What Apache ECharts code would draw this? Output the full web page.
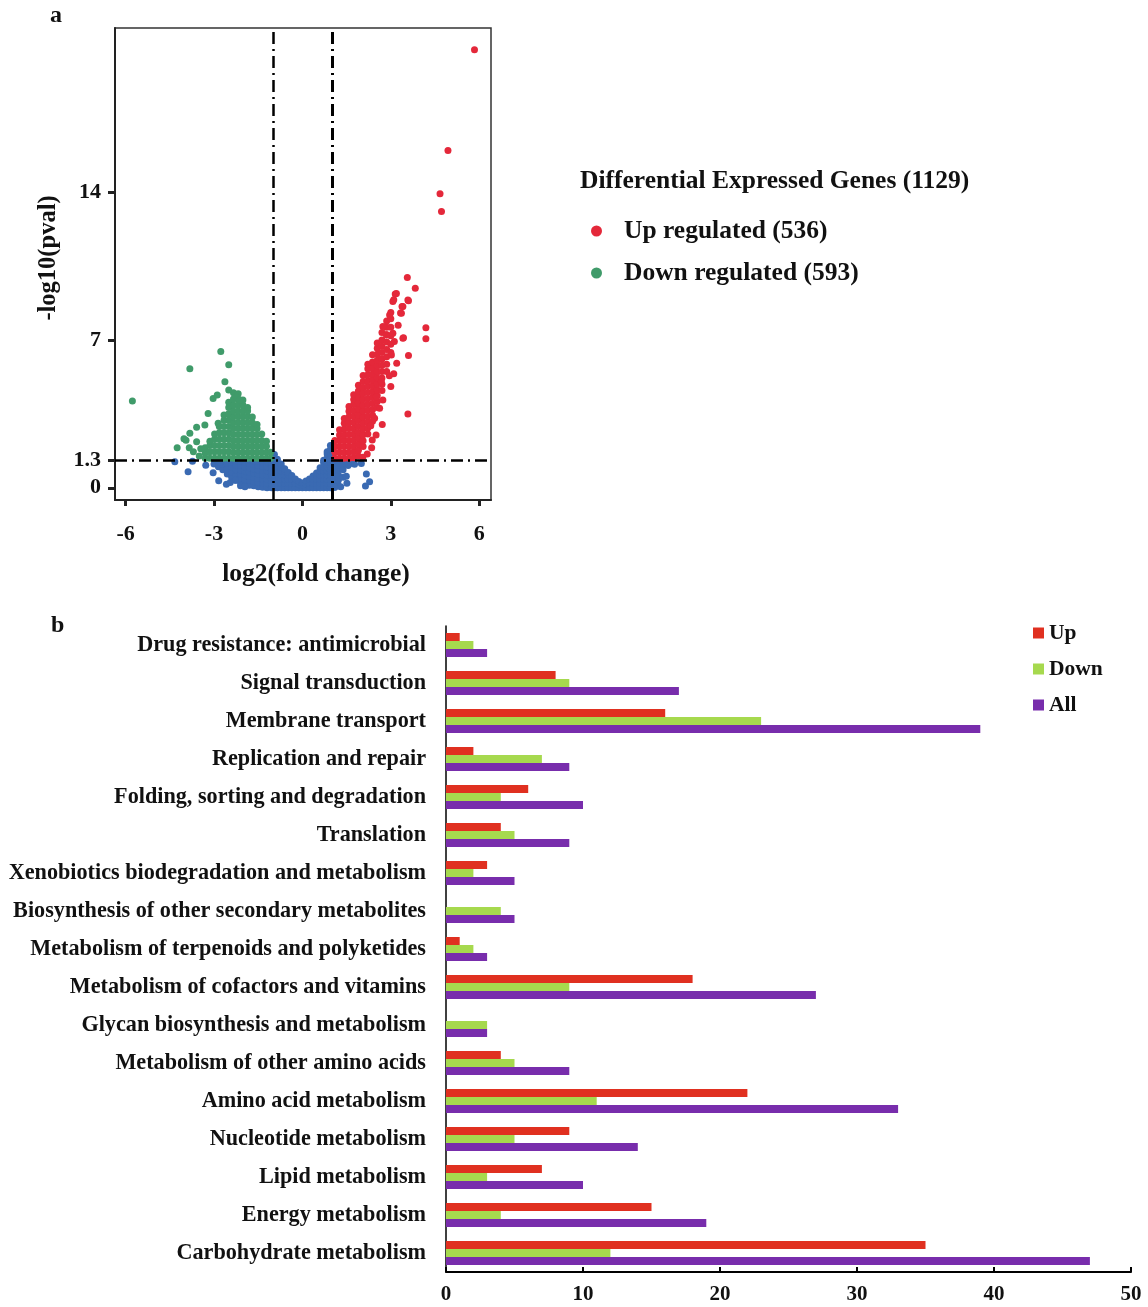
<!DOCTYPE html>
<html><head><meta charset="utf-8">
<script src="https://cdn.jsdelivr.net/npm/echarts@6/dist/echarts.min.js"></script>
<style>html,body{margin:0;padding:0;background:#fff}#c{width:1148px;height:1307px}</style>
</head><body><div id="c"></div>
<script>
const FONT = "'Liberation Serif','Times New Roman',serif";

// ---------- Volcano plot data (log2 fold change, -log10 p) ----------
// columns: [x, [y values]]
const nsColumns = [
  [-3.0,[1.12]],
  [-2.85,[1.0,1.22]],
  [-2.7,[0.85,1.1,1.25]],
  [-2.55,[0.65,0.9,1.15]],
  [-2.4,[0.5,0.75,1.0,1.2]],
  [-2.25,[0.35,0.6,0.85,1.05,1.25]],
  [-2.1,[0.25,0.45,0.65,0.85,1.05,1.25]],
  [-1.95,[0.2,0.4,0.6,0.8,1.0,1.2]],
  [-1.8,[0.12,0.35,0.55,0.75,0.95,1.15]],
  [-1.65,[0.1,0.3,0.5,0.7,0.9,1.1,1.27]],
  [-1.5,[0.05,0.25,0.45,0.65,0.85,1.05,1.25]],
  [-1.35,[0.02,0.22,0.42,0.62,0.82,1.02,1.22]],
  [-1.2,[0,0.2,0.4,0.6,0.8,1.0,1.2,1.28]],
  [-1.05,[0,0.2,0.4,0.6,0.8,1.0,1.2]],
  [-0.95,[0,0.2,0.4,0.6,0.8,1.0,1.2,1.4,1.58]],
  [-0.85,[0,0.2,0.4,0.6,0.8,1.0,1.2,1.35]],
  [-0.72,[0,0.2,0.4,0.6,0.8,1.0,1.12]],
  [-0.6,[0,0.2,0.4,0.6,0.8,0.9]],
  [-0.48,[0,0.2,0.4,0.6,0.72]],
  [-0.36,[0,0.2,0.4,0.58]],
  [-0.24,[0,0.2,0.42]],
  [-0.12,[0,0.18,0.3]],
  [0,[0,0.14,0.22]],
  [0.12,[0,0.18,0.32]],
  [0.24,[0,0.2,0.42]],
  [0.36,[0,0.2,0.4,0.56]],
  [0.48,[0,0.2,0.4,0.6,0.7]],
  [0.6,[0,0.2,0.4,0.6,0.8,0.95]],
  [0.72,[0,0.2,0.4,0.6,0.8,1.0,1.2,1.3]],
  [0.84,[0,0.2,0.4,0.6,0.8,1.0,1.2,1.4,1.6,1.7]],
  [0.95,[0,0.2,0.4,0.6,0.8,1.0,1.2,1.4,1.6,1.8,2.0]],
  [1.08,[0.02,0.22,0.42,0.62,0.82,1.02,1.22]],
  [1.22,[0.1,0.35,0.6,0.85,1.05,1.25]],
  [1.38,[0.5,0.85,1.1,1.25]],
  [1.55,[1.05,1.25]],
  [1.7,[1.15,1.25]]
];
const nsOutliers = [
  [-4.33,1.23],[-3.73,1.26],[-3.88,0.76],[-3.28,1.07],[-3.03,0.71],[-2.84,0.33],
  [-2.58,0.16],[-2.29,0.36],[-2.8,1.2],[-2.45,0.25],[-2.1,0.1],[-1.95,0.05],
  [1.49,0.55],[1.51,0.21],[2.17,0.65],[2.28,0.28],[2.14,0.08],[2.0,1.15],
  [1.77,1.11],[1.49,1.15],[1.1,0.02],[1.3,0.05],
  [-6.4,0.05],[-6.4,0.2],[-6.4,0.35],[6.45,0.1],[6.45,0.3],[6.45,0.5],[6.45,1.2]
];
const downColumns = [
  [-3.3,[1.4,1.65,1.9]],
  [-3.14,[1.4,1.7,2.0,2.2]],
  [-2.98,[1.4,1.7,2.0,2.3,2.55]],
  [-2.82,[1.4,1.7,2.0,2.3,2.6,2.9]],
  [-2.66,[1.4,1.7,2.0,2.3,2.6,2.9,3.2,3.45]],
  [-2.5,[1.4,1.7,2.0,2.3,2.6,2.9,3.2,3.5,3.8,4.05]],
  [-2.34,[1.4,1.68,1.96,2.24,2.52,2.8,3.08,3.36,3.64,3.92,4.2,4.5]],
  [-2.18,[1.4,1.68,1.96,2.24,2.52,2.8,3.08,3.36,3.64,3.92,4.2,4.45]],
  [-2.02,[1.4,1.68,1.96,2.24,2.52,2.8,3.08,3.36,3.64,3.92,4.15]],
  [-1.86,[1.4,1.68,1.96,2.24,2.52,2.8,3.08,3.36,3.64,3.8]],
  [-1.7,[1.4,1.68,1.96,2.24,2.52,2.8,3.08,3.35]],
  [-1.54,[1.4,1.68,1.96,2.24,2.52,2.8,3.0]],
  [-1.38,[1.4,1.68,1.96,2.24,2.55]],
  [-1.22,[1.4,1.68,1.96,2.2]],
  [-1.08,[1.4,1.68]]
];
const downOutliers = [
  [-5.77,4.11],[-2.77,6.45],[-3.82,5.64],[-2.5,5.83],[-2.63,5.02],[-2.5,4.63],
  [-3.03,4.23],[-2.89,4.39],[-2.24,4.31],[-2.12,4.15],[-3.2,3.52],[-2.86,3.05],
  [-3.59,2.86],[-3.31,2.97],[-3.82,2.58],[-4.02,2.32],[-4.25,1.9],[-3.84,1.9],
  [-3.59,2.18],[-3.5,1.5],[-3.7,1.7],[-3.45,1.85],[-3.95,2.25],[-6.4,1.6]
];
const upColumns = [
  [1.1,[1.4,1.68,1.96,2.24]],
  [1.26,[1.4,1.68,1.95,2.23,2.5,2.75]],
  [1.42,[1.4,1.67,1.95,2.22,2.5,2.78,3.05,3.28]],
  [1.58,[1.4,1.68,1.96,2.24,2.52,2.8,3.08,3.36,3.62,3.85]],
  [1.74,[1.42,1.7,1.98,2.26,2.54,2.82,3.1,3.38,3.66,3.94,4.18,4.4]],
  [1.9,[1.5,1.78,2.06,2.34,2.62,2.9,3.18,3.46,3.74,4.02,4.3,4.58,4.85]],
  [2.06,[1.95,2.23,2.51,2.79,3.07,3.35,3.63,3.91,4.19,4.47,4.75,5.03,5.32]],
  [2.22,[2.55,2.83,3.11,3.39,3.67,3.95,4.23,4.51,4.79,5.07,5.35,5.63,5.85]],
  [2.38,[3.15,3.43,3.71,3.99,4.27,4.55,4.83,5.11,5.39,5.67,5.95,6.3]],
  [2.54,[3.8,4.08,4.36,4.64,4.92,5.2,5.48,5.76,6.04,6.32,6.6,6.85]],
  [2.7,[4.6,4.9,5.2,5.5,5.8,6.1,6.4,6.7,7.0,7.35]],
  [2.86,[5.5,5.85,6.2,6.55,6.9,7.25,7.6,7.9]],
  [3.0,[6.4,6.8,7.2,7.6,8.0,8.3]]
];
const upOutliers = [
  [5.84,20.74],[4.94,15.97],[4.67,13.92],[4.72,13.08],[3.56,9.95],[3.83,9.45],
  [3.58,3.49],[4.19,7.58],[4.19,7.05],[3.41,7.08],[3.6,6.26],[3.02,6.29],
  [2.73,4.15],[2.71,3.0],[2.37,2.26],[2.32,2.94],[2.45,3.29],[2.51,4.31],
  [2.62,3.76],[2.68,5.02],[3.12,6.92],[3.07,7.31],[3.15,9.18],[3.07,8.82],
  [3.41,8.58],[3.58,8.89],[3.36,8.26],[2.96,8.18],[2.73,7.63],[2.85,7.24],
  [3.19,9.2],[3.1,8.9],[3.6,8.85],[3.38,8.58],[3.33,8.28],[3.43,7.1],
  [2.2,1.6],[2.35,1.9],[2.5,2.5],[2.05,1.45],[3.2,5.9],[3.1,5.4],[3.25,7.7],
  [3.0,4.8],[2.95,5.3]
];
const volcanoXTicks = [-6,-3,0,3,6];
const volcanoYTicks = [0,1.3,7,14];
const foldCut = [-1,1];
const pCut = 1.3;

// ---------- KEGG bar data ----------
const categories = [
  'Drug resistance: antimicrobial','Signal transduction','Membrane transport',
  'Replication and repair','Folding, sorting and degradation','Translation',
  'Xenobiotics biodegradation and metabolism','Biosynthesis of other secondary metabolites',
  'Metabolism of terpenoids and polyketides','Metabolism of cofactors and vitamins',
  'Glycan biosynthesis and metabolism','Metabolism of other amino acids',
  'Amino acid metabolism','Nucleotide metabolism','Lipid metabolism',
  'Energy metabolism','Carbohydrate metabolism'
];
const upCounts   = [1,8,16,2,6,4,3,0,1,18,0,4,22,9,7,15,35];
const downCounts = [2,9,23,7,4,5,2,4,2,9,3,5,11,5,3,4,12];
const allCounts  = [3,17,39,9,10,9,5,5,3,27,3,9,33,14,10,19,47];

function expand(cols){ const out=[]; cols.forEach(c=>c[1].forEach(y=>out.push([c[0],y]))); return out; }
const nsPoints = expand(nsColumns).concat(nsOutliers);
const downPoints = expand(downColumns).concat(downOutliers);
const upPoints = expand(upColumns).concat(upOutliers);

const chart = echarts.init(document.getElementById('c'), null, {renderer:'canvas'});
const bold = (size)=>({fontFamily:FONT,fontWeight:'bold',fontSize:size,color:'#111'});
const dashDot = [12,5,2,5];

chart.setOption({
  animation:false,
  backgroundColor:'#fff',
  title:[
    {text:'a',left:50,top:4,padding:0,textStyle:bold(24)},
    {text:'b',left:51,top:614,padding:0,textStyle:bold(24)},
    {text:'Differential Expressed Genes (1129)',left:580,top:168,padding:0,textStyle:bold(25.5)}
  ],
  legend:[
    {data:['Up regulated (536)','Down regulated (593)'],orient:'vertical',left:591,top:217,padding:0,
     itemWidth:11,itemHeight:11,itemGap:14,icon:'circle',selectedMode:false,
     textStyle:Object.assign(bold(25.5),{padding:[0,0,0,17],lineHeight:28})},
    {data:['Up','Down','All'],orient:'vertical',left:1033,top:620,padding:0,
     itemWidth:11,itemHeight:11,itemGap:10,icon:'rect',selectedMode:false,
     textStyle:Object.assign(bold(21.5),{lineHeight:26})}
  ],
  grid:[
    {left:115,top:28,width:376,height:472,show:true,borderColor:'#333',borderWidth:1.5,containLabel:false},
    {left:446,top:626,right:17,bottom:35,containLabel:false}
  ],
  xAxis:[
    {gridIndex:0,type:'value',min:-6.36,max:6.4,
     name:'log2(fold change)',nameLocation:'middle',nameGap:61,
     nameTextStyle:Object.assign(bold(25.5),{padding:[0,0,0,26]}),
     axisLine:{show:true,onZero:false,lineStyle:{color:'#222',width:2}},
     axisTick:{show:true,customValues:volcanoXTicks,length:6,lineStyle:{color:'#222',width:3}},
     axisLabel:{customValues:volcanoXTicks,margin:23,...bold(22)},
     splitLine:{show:false}},
    {gridIndex:1,type:'value',min:0,max:50,interval:10,
     axisLine:{show:true,lineStyle:{color:'#000',width:2}},
     axisTick:{show:true,inside:true,length:5,lineStyle:{color:'#000',width:2}},
     axisLabel:{margin:12,...bold(21)},
     splitLine:{show:false}}
  ],
  yAxis:[
    {gridIndex:0,type:'value',min:-0.58,max:21.77,
     name:'-log10(pval)',nameLocation:'middle',nameGap:54,nameRotate:90,
     nameTextStyle:Object.assign(bold(24.5),{padding:[0,0,0,12]}),
     axisLine:{show:true,onZero:false,lineStyle:{color:'#222',width:2}},
     axisTick:{show:true,customValues:volcanoYTicks,length:7,lineStyle:{color:'#222',width:3}},
     axisLabel:{customValues:volcanoYTicks,margin:14,...bold(22)},
     splitLine:{show:false}},
    {gridIndex:1,type:'category',data:categories,inverse:true,
     axisLine:{show:true,lineStyle:{color:'#000',width:1.5}},
     axisTick:{show:false},
     axisLabel:{margin:20,...bold(22.2)},
     splitLine:{show:false}}
  ],
  series:[
    {name:'Not significant',type:'scatter',xAxisIndex:0,yAxisIndex:0,data:nsPoints,
     symbolSize:7,itemStyle:{color:'#3a6ab2',opacity:1},clip:true,silent:true},
    {name:'Down regulated (593)',type:'scatter',xAxisIndex:0,yAxisIndex:0,data:downPoints,
     symbolSize:7,itemStyle:{color:'#409b6a',opacity:1},clip:true,silent:true},
    {name:'Up regulated (536)',type:'scatter',xAxisIndex:0,yAxisIndex:0,data:upPoints,
     symbolSize:7,itemStyle:{color:'#e4283a',opacity:1},clip:true,silent:true,
     markLine:{silent:true,symbol:'none',label:{show:false},animation:false,
       lineStyle:{color:'#000',width:2.5,type:dashDot},
       data:[{xAxis:foldCut[0]},{xAxis:foldCut[1],lineStyle:{width:3,color:'#000',type:dashDot}},{yAxis:pCut}]}},
    {name:'Up',type:'bar',xAxisIndex:1,yAxisIndex:1,data:upCounts,barWidth:8,barGap:'0%',
     itemStyle:{color:'#e03020'}},
    {name:'Down',type:'bar',xAxisIndex:1,yAxisIndex:1,data:downCounts,barWidth:8,barGap:'0%',
     itemStyle:{color:'#a6d94e'}},
    {name:'All',type:'bar',xAxisIndex:1,yAxisIndex:1,data:allCounts,barWidth:8,barGap:'0%',
     itemStyle:{color:'#782dac'}}
  ]
});
</script>
</body></html>
